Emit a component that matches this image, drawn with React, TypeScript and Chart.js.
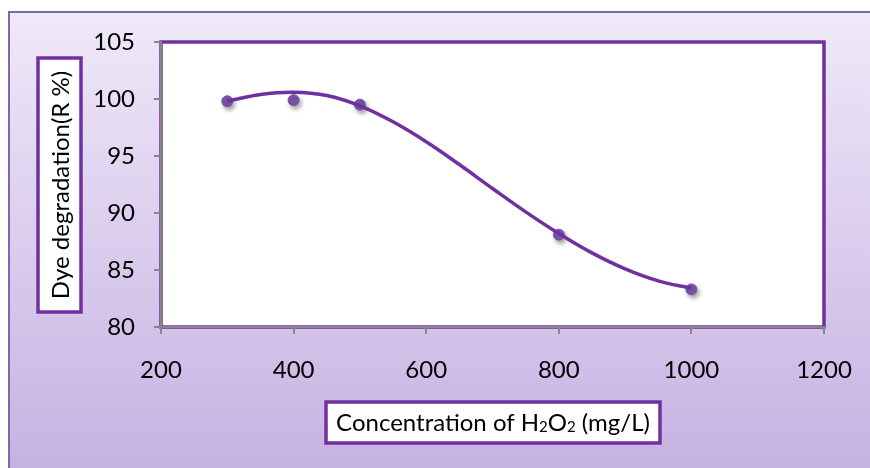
import React, { useEffect, useRef } from "react";
import { Chart, registerables } from "chart.js";

Chart.register(...registerables);

// ---- data ----
const concentrations = [300, 400, 500, 800, 1000];
const degradation = [99.8, 99.9, 99.5, 88.1, 83.3];

// trendline (polynomial fit in the original)
const trendX = [300, 350, 400, 450, 500, 550, 600, 650, 700, 750, 800, 850, 900, 950, 1000];
const trendY = [99.8, 100.4, 100.6, 100.3, 99.4, 98.0, 96.25, 94.25, 92.15, 90.1, 88.2, 86.5, 85.1, 84.05, 83.4];

const xMin = 200;
const xMax = 1200;
const xStep = 200;
const yMin = 80;
const yMax = 105;
const yStep = 5;

const yTitle = "Dye degradation(R %)";
const xTitleParts: [string, boolean][] = [
  ["Concentration of H", false],
  ["2", true],
  ["O", false],
  ["2", true],
  [" (mg/L)", false],
];

const FONT = "Lato, 'Open Sans', sans-serif";
const PURPLE = "#7030A0";

const decorPlugin = {
  id: "decor",
  beforeDraw(chart: any) {
    const { ctx, chartArea, width, height } = chart;
    ctx.save();
    ctx.fillStyle = "#ffffff";
    ctx.fillRect(0, 0, width, height);
    const g = ctx.createLinearGradient(0, 12, 0, height);
    g.addColorStop(0, "#EFE9F8");
    g.addColorStop(1, "#C6B2E2");
    ctx.fillStyle = g;
    ctx.fillRect(9, 12, width, height);
    ctx.strokeStyle = "#7E68A8";
    ctx.lineWidth = 2;
    ctx.strokeRect(9, 12, width + 10, height + 10);
    ctx.fillStyle = "#ffffff";
    ctx.fillRect(chartArea.left, chartArea.top, chartArea.right - chartArea.left, chartArea.bottom - chartArea.top);
    ctx.strokeStyle = PURPLE;
    ctx.lineWidth = 3.5;
    ctx.strokeRect(chartArea.left, chartArea.top, chartArea.right - chartArea.left, chartArea.bottom - chartArea.top);
    ctx.restore();
  },
  beforeDatasetDraw(chart: any, args: any) {
    if (args.index === 1) {
      const ctx = chart.ctx;
      ctx.save();
      ctx.shadowColor = "rgba(0,0,0,0.35)";
      ctx.shadowBlur = 4;
      ctx.shadowOffsetX = 2;
      ctx.shadowOffsetY = 3;
    }
  },
  afterDatasetDraw(chart: any, args: any) {
    if (args.index === 1) {
      chart.ctx.restore();
    }
  },
  afterDraw(chart: any) {
    const { ctx } = chart;
    ctx.save();
    ctx.fillStyle = "#ffffff";
    ctx.fillRect(38, 58, 43, 254);
    ctx.strokeStyle = PURPLE;
    ctx.lineWidth = 3.5;
    ctx.strokeRect(38, 58, 43, 254);
    ctx.translate(60, 185);
    ctx.rotate(-Math.PI / 2);
    ctx.fillStyle = "#000000";
    ctx.font = `24px ${FONT}`;
    ctx.textAlign = "center";
    ctx.textBaseline = "middle";
    ctx.fillText(yTitle, 0, 1);
    ctx.restore();

    ctx.save();
    ctx.fillStyle = "#ffffff";
    ctx.fillRect(326, 402, 334, 41);
    ctx.strokeStyle = PURPLE;
    ctx.lineWidth = 3.5;
    ctx.strokeRect(326, 402, 334, 41);
    const mainFont = `24px ${FONT}`;
    const subFont = `15px ${FONT}`;
    let total = 0;
    for (const [t, sub] of xTitleParts) {
      ctx.font = sub ? subFont : mainFont;
      total += ctx.measureText(t).width;
    }
    let x = 493 - total / 2;
    const baseline = 431;
    ctx.fillStyle = "#000000";
    ctx.textAlign = "left";
    ctx.textBaseline = "alphabetic";
    for (const [t, sub] of xTitleParts) {
      ctx.font = sub ? subFont : mainFont;
      ctx.fillText(t, x, sub ? baseline + 1 : baseline);
      x += ctx.measureText(t).width;
    }
    ctx.restore();
  },
};

export default function App() {
  const ref = useRef<HTMLCanvasElement | null>(null);

  useEffect(() => {
    if (!ref.current) return;
    const chart = new Chart(ref.current, {
      type: "scatter",
      data: {
        datasets: [
          {
            label: "Trend",
            data: trendX.map((x, i) => ({ x, y: trendY[i] })),
            showLine: true,
            borderColor: PURPLE,
            borderWidth: 3.5,
            pointRadius: 0,
            tension: 0.4,
            order: 0,
          },
          {
            label: "Dye degradation",
            data: concentrations.map((x, i) => ({ x, y: degradation[i] })),
            showLine: false,
            backgroundColor: "#7A55A9",
            borderColor: "#7A55A9",
            pointRadius: 5.5,
            order: 1,
          },
        ],
      },
      options: {
        responsive: false,
        animation: false,
        events: [],
        layout: { padding: { left: 0, top: 42, right: 46, bottom: 0 } },
        plugins: { legend: { display: false }, tooltip: { enabled: false } },
        scales: {
          x: {
            type: "linear",
            min: xMin,
            max: xMax,
            ticks: {
              stepSize: xStep,
              color: "#000",
              font: { family: FONT, size: 24 },
              padding: 22,
              callback: (v: any) => String(v),
            },
            grid: { drawOnChartArea: false, color: "#868686", lineWidth: 2, tickLength: 7 },
            border: { display: true, color: "#868686", width: 2 },
            afterFit: (s: any) => {
              s.height = 141;
              s.paddingLeft = 0;
              s.paddingRight = 0;
            },
          },
          y: {
            min: yMin,
            max: yMax,
            ticks: {
              stepSize: yStep,
              color: "#000",
              font: { family: FONT, size: 24 },
              padding: 19,
              callback: (v: any) => String(v),
            },
            grid: { drawOnChartArea: false, color: "#868686", lineWidth: 2, tickLength: 7 },
            border: { display: true, color: "#868686", width: 2 },
            afterFit: (s: any) => {
              s.width = 161;
              s.paddingTop = 0;
              s.paddingBottom = 0;
            },
          },
        },
      },
      plugins: [decorPlugin],
    });
    return () => chart.destroy();
  }, []);

  return (
    <div style={{ position: "fixed", left: 0, top: 0, width: 870, height: 468 }}>
      <canvas ref={ref} width={870} height={468} style={{ width: 870, height: 468, display: "block" }} />
    </div>
  );
}
